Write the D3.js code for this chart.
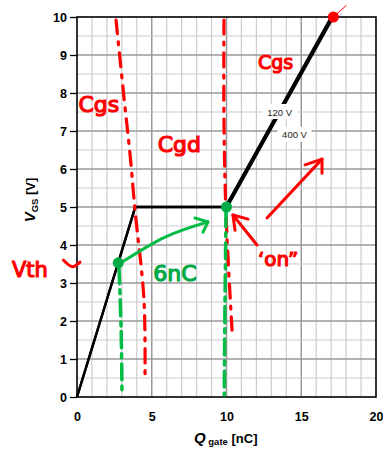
<!DOCTYPE html>
<html>
<head>
<meta charset="utf-8">
<script src="https://cdn.jsdelivr.net/npm/d3@7"></script>
<style>
  html, body { margin: 0; padding: 0; background: #fff; }
  svg { display: block; }
</style>
</head>
<body>
<div id="chart"></div>
<script>
// data
const qTicks = [0, 5, 10, 15, 20]
const vTicks = [0, 1, 2, 3, 4, 5, 6, 7, 8, 9, 10]

// gate charge curves (Q in nC, V in V)
const qGate120 = [0, 3.9, 9.92, 17.0]
const vGs120 = [0, 5, 5, 10]
const qGate400 = [0, 3.9, 10.05, 17.15]
const vGs400 = [0, 5, 5, 10]
const curveLabels = ['120 V', '400 V']
const labelPos = [[13.55, 7.5], [14.55, 6.9]]

// hand drawn notes, in data units
const redDash1 = [[2.61, 9.92], [3.14, 7.89], [3.55, 6.37], [3.88, 4.92], [4.48, 2.55], [4.55, 0.58]]
const redDash2 = [[9.83, 9.92], [9.83, 7.29], [9.97, 4.79], [10.37, 1.76]]
const greenDash1 = [[2.81, 3.4], [2.95, 1.8], [3.01, 0.05]]
const greenDash2 = [[9.97, 4.9], [9.9, 2.5], [9.85, 0.05]]
const greenDots = [[2.76, 3.53], [10.0, 5.0]]
const redDot = [17.15, 10]
const greenArrow = { path: [[3.01, 3.55], [5.89, 4.21], [8.76, 4.61]], head: [[7.89, 4.71], [8.76, 4.61], [8.43, 4.34]] }
const redArrows = [
  { path: [[12.04, 4.0], [10.43, 4.79]], head: [[10.57, 4.39], [10.43, 4.79], [11.44, 4.68]] },
  { path: [[12.71, 4.71], [16.39, 6.26]], head: [[15.25, 6.11], [16.39, 6.26], [16.39, 5.89]] }
]
const notes = [
  { text: 'Cgs', q: 0.1, v: 7.5, color: '#f00', size: 22 },
  { text: 'Cgd', q: 5.4, v: 6.45, color: '#f00', size: 22 },
  { text: 'Cgs', q: 12.1, v: 8.62, color: '#f00', size: 19 },
  { text: 'Vth', q: -4.35, v: 3.15, color: '#f00', size: 21 },
  { text: '6nC', q: 5.1, v: 3.05, color: '#0a4', size: 22 },
  { text: '\u2018on\u201d', q: 12.1, v: 3.45, color: '#f00', size: 20 }
]

const width = 383, height = 449
const margin = { top: 17, right: 7, bottom: 52, left: 77 }
const innerW = width - margin.left - margin.right
const innerH = height - margin.top - margin.bottom

const svg = d3.select('#chart').append('svg')
  .attr('width', width)
  .attr('height', height)

const g = svg.append('g')
  .attr('transform', `translate(${margin.left},${margin.top})`)

const x = d3.scaleLinear().domain([0, 20]).range([0, innerW])
const y = d3.scaleLinear().domain([0, 10]).range([innerH, 0])

// grid
g.append('g').selectAll('line')
  .data(d3.range(1, 20))
  .enter().append('line')
  .attr('x1', d => x(d)).attr('x2', d => x(d))
  .attr('y1', 0).attr('y2', innerH)
  .style('stroke', d => d % 5 === 0 ? '#999' : '#ccc')
  .style('stroke-width', d => d % 5 === 0 ? 1.5 : 1.2)

g.append('g').selectAll('line')
  .data(d3.range(0.5, 10, 0.5))
  .enter().append('line')
  .attr('x1', 0).attr('x2', innerW)
  .attr('y1', d => y(d)).attr('y2', d => y(d))
  .style('stroke', d => d % 1 === 0 ? '#999' : '#ccc')
  .style('stroke-width', d => d % 1 === 0 ? 1.5 : 1.2)

// axes
const yAxis = g.append('g')
  .call(d3.axisLeft(y).tickValues(vTicks).tickSize(7).tickPadding(3))
yAxis.select('.domain').remove()
yAxis.selectAll('line').style('stroke', '#000').style('stroke-width', 1.3)
yAxis.selectAll('text')
  .style('font-family', 'Liberation Sans, Arial, sans-serif')
  .style('font-size', '12.5px').style('font-weight', 'bold').style('fill', '#000')

const xAxis = g.append('g')
  .attr('transform', `translate(0,${innerH})`)
  .call(d3.axisBottom(x).tickValues(qTicks).tickSize(0).tickPadding(15))
xAxis.select('.domain').remove()
xAxis.selectAll('text')
  .style('font-family', 'Liberation Sans, Arial, sans-serif')
  .style('font-size', '12.5px').style('font-weight', 'bold').style('fill', '#000')

g.append('rect')
  .attr('width', innerW).attr('height', innerH)
  .style('fill', 'none').style('stroke', '#000').style('stroke-width', 1.6)

// axis titles
const yt = svg.append('text')
  .attr('transform', `translate(35,200) rotate(-90)`)
  .attr('text-anchor', 'middle')
  .style('font-family', 'Liberation Sans, Arial, sans-serif')
  .style('font-weight', 'bold').style('fill', '#000')
yt.append('tspan').style('font-size', '15px').style('font-style', 'italic').text('V')
yt.append('tspan').style('font-size', '9.5px').attr('dy', 3).text('GS')
yt.append('tspan').style('font-size', '13px').attr('dy', -3).text(' [V]')

const xt = svg.append('text')
  .attr('x', 194).attr('y', 443)
  .style('font-family', 'Liberation Sans, Arial, sans-serif')
  .style('font-weight', 'bold').style('fill', '#000')
xt.append('tspan').style('font-size', '15px').style('font-style', 'italic').text('Q')
xt.append('tspan').style('font-size', '9.5px').attr('dy', 2).text(' gate')
xt.append('tspan').style('font-size', '13px').attr('dy', -2).text(' [nC]')

// curves
const line = d3.line().x(d => x(d[0])).y(d => y(d[1]))
const curves = [d3.zip(qGate120, vGs120), d3.zip(qGate400, vGs400)]
g.selectAll('.curve')
  .data(curves)
  .enter().append('path')
  .attr('class', 'curve')
  .attr('d', line)
  .style('fill', 'none')
  .style('stroke', '#000')
  .style('stroke-width', 2.4)
  .style('stroke-linejoin', 'miter')

// curve labels
labelPos.forEach((p, i) => {
  const lg = g.append('g').attr('transform', `translate(${x(p[0])},${y(p[1])})`)
  lg.append('rect')
    .attr('x', -17).attr('y', -8).attr('width', 34).attr('height', 15)
    .style('fill', '#fff')
  lg.append('text')
    .attr('text-anchor', 'middle').attr('dy', 3.5)
    .style('font-family', 'Liberation Sans, Arial, sans-serif')
    .style('font-size', '9.5px').style('fill', '#222')
    .text(curveLabels[i])
})

// hand drawn annotations
const curvy = d3.line().x(d => x(d[0])).y(d => y(d[1])).curve(d3.curveCatmullRom)
const ann = g.append('g').style('stroke-linecap', 'round').style('fill', 'none')

ann.append('path').attr('d', curvy(redDash1))
  .style('stroke', '#f00').style('stroke-width', 3.2).style('stroke-dasharray', '14 8 3 8')
ann.append('path').attr('d', curvy(redDash2))
  .style('stroke', '#f00').style('stroke-width', 3.2).style('stroke-dasharray', '14 8 3 8')
ann.append('path').attr('d', curvy(greenDash1))
  .style('stroke', '#0b4').style('stroke-width', 3.5).style('stroke-dasharray', '16 6 4 6')
ann.append('path').attr('d', curvy(greenDash2))
  .style('stroke', '#0b4').style('stroke-width', 3.5).style('stroke-dasharray', '16 6 4 6')

ann.append('path').attr('d', d3.line().x(d => x(d[0])).y(d => y(d[1])).curve(d3.curveNatural)(greenArrow.path))
  .style('stroke', '#0b4').style('stroke-width', 3)
ann.append('path').attr('d', line(greenArrow.head))
  .style('stroke', '#0b4').style('stroke-width', 3).style('stroke-linejoin', 'round')

redArrows.forEach(a => {
  ann.append('path').attr('d', line(a.path)).style('stroke', '#f00').style('stroke-width', 3)
  ann.append('path').attr('d', line(a.head)).style('stroke', '#f00').style('stroke-width', 3)
    .style('stroke-linejoin', 'round')
})

// small marks next to Vth and the end point
ann.append('path').attr('d', curvy([[-0.9, 3.6], [-0.3, 3.43], [0.2, 3.55]]))
  .style('stroke', '#f00').style('stroke-width', 3)
ann.append('path').attr('d', line([[17.15, 10], [18.0, 10.3]]))
  .style('stroke', '#f00').style('stroke-width', 1)

g.selectAll('.gdot')
  .data(greenDots)
  .enter().append('circle')
  .attr('class', 'gdot')
  .attr('cx', d => x(d[0])).attr('cy', d => y(d[1]))
  .attr('r', 5.5)
  .style('fill', '#0a4')

g.append('circle')
  .attr('cx', x(redDot[0])).attr('cy', y(redDot[1]))
  .attr('r', 5.5)
  .style('fill', '#f00')

g.selectAll('.note')
  .data(notes)
  .enter().append('text')
  .attr('class', 'note')
  .attr('x', d => x(d.q)).attr('y', d => y(d.v))
  .style('font-family', 'DejaVu Sans, sans-serif')
  .style('font-size', d => d.size + 'px')
  .style('fill', d => d.color)
  .style('stroke', d => d.color)
  .style('stroke-width', 1.2)
  .text(d => d.text)
</script>
</body>
</html>
